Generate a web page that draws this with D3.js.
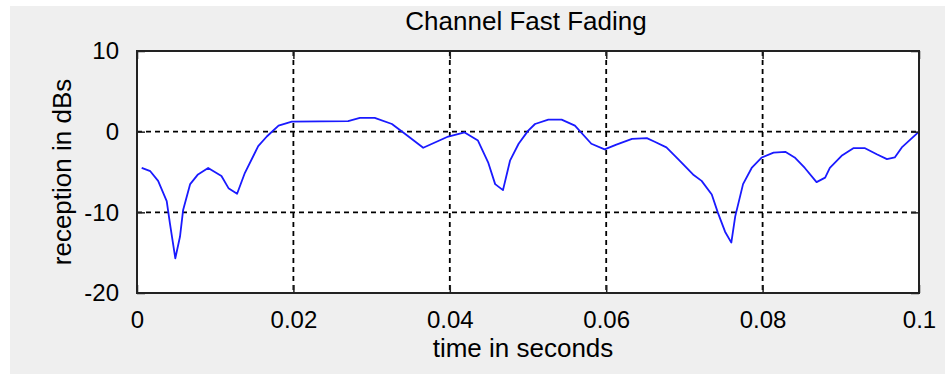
<!DOCTYPE html>
<html>
<head>
<meta charset="utf-8">
<script src="https://cdn.jsdelivr.net/npm/d3@7/dist/d3.min.js"></script>
<style>
  html, body { margin: 0; padding: 0; background: #ffffff; }
  svg { display: block; font-family: "Liberation Sans", Arial, sans-serif; }
</style>
</head>
<body>
<svg id="chart" width="945" height="374"></svg>
<script>
// Sampled channel response: time (s) and received level (dB)
const timeSec = [
  0.0006, 0.0017, 0.0027, 0.0038, 0.0042, 0.0049, 0.0055, 0.0059, 0.0068, 0.0078,
  0.0091, 0.0108, 0.0117, 0.0128, 0.0138, 0.0155, 0.0166, 0.0181, 0.0198, 0.0270,
  0.0285, 0.0304, 0.0326, 0.0343, 0.0366, 0.0398, 0.0419, 0.0436, 0.0449, 0.0458,
  0.0468, 0.0477, 0.0488, 0.0500, 0.0509, 0.0526, 0.0543, 0.0560, 0.0581, 0.0598,
  0.0613, 0.0633, 0.0652, 0.0662, 0.0677, 0.0692, 0.0711, 0.0722, 0.0735, 0.0743,
  0.0752, 0.0760, 0.0765, 0.0775, 0.0786, 0.0799, 0.0814, 0.0829, 0.0841, 0.0854,
  0.0869, 0.0880, 0.0886, 0.0901, 0.0916, 0.0931, 0.0946, 0.0959, 0.0969, 0.0978,
  0.1000
];
const receptionDb = [
  -4.5, -4.9, -6.1, -8.6, -11.3, -15.7, -13.0, -9.7, -6.5, -5.3,
  -4.5, -5.5, -7.0, -7.7, -5.1, -1.8, -0.6, 0.75, 1.25, 1.3,
  1.7, 1.7, 0.95, -0.3, -2.0, -0.6, -0.1, -1.1, -3.8, -6.5,
  -7.25, -3.6, -1.5, 0.1, 0.95, 1.5, 1.5, 0.75, -1.5, -2.2,
  -1.6, -0.9, -0.8, -1.25, -1.95, -3.4, -5.3, -6.1, -7.8, -10.1,
  -12.4, -13.75, -10.5, -6.5, -4.5, -3.2, -2.6, -2.5, -3.2, -4.5,
  -6.25, -5.7, -4.5, -3.0, -2.05, -2.05, -2.8, -3.4, -3.2, -1.95,
  0.0
];
const xTicks = [0, 0.02, 0.04, 0.06, 0.08, 0.1];
const xTickLabels = ["0", "0.02", "0.04", "0.06", "0.08", "0.1"];
const yTicks = [-20, -10, 0, 10];
const yTickLabels = ["-20", "-10", "0", "10"];

const titleText = "Channel Fast Fading";
const xLabelText = "time in seconds";
const yLabelText = "reception in dBs";

const W = 945, H = 374;
const plot = { left: 137, top: 51, right: 919, bottom: 293 };
const tickFont = 24;
const labelFont = 26;

const svg = d3.select("#chart");

// figure background panel
svg.append("rect").attr("x", 10).attr("y", 6).attr("width", W - 10).attr("height", H - 6)
  .attr("fill", "#efefef");

// axes area
svg.append("rect")
  .attr("x", plot.left).attr("y", plot.top)
  .attr("width", plot.right - plot.left).attr("height", plot.bottom - plot.top)
  .attr("fill", "#ffffff");

const x = d3.scaleLinear().domain([0, 0.1]).range([plot.left, plot.right]);
const y = d3.scaleLinear().domain([-20, 10]).range([plot.bottom, plot.top]);

// dashed grid
const grid = svg.append("g").attr("stroke", "#000").attr("stroke-width", 1.8)
  .attr("stroke-dasharray", "5,4").attr("fill", "none");
grid.selectAll("line.gx").data(xTicks.filter(d => d > 0 && d < 0.1)).join("line")
  .attr("class", "gx")
  .attr("x1", d => x(d)).attr("x2", d => x(d))
  .attr("y1", plot.top).attr("y2", plot.bottom);
grid.selectAll("line.gy").data(yTicks.filter(d => d > -20 && d < 10)).join("line")
  .attr("class", "gy")
  .attr("y1", d => y(d)).attr("y2", d => y(d))
  .attr("x1", plot.left).attr("x2", plot.right);

// data line
const line = d3.line().x((d, i) => x(timeSec[i])).y(d => y(d)).curve(d3.curveLinear);
svg.append("path").datum(receptionDb)
  .attr("d", line)
  .attr("fill", "none").attr("stroke", "#1a1aff").attr("stroke-width", 1.8)
  .attr("stroke-linejoin", "round");

// axes with inward ticks on all four sides
const tickLen = 8;
const axisStyle = g => {
  g.select(".domain").remove();
  g.selectAll("line").attr("stroke", "#222").attr("stroke-width", 1.5);
};
svg.append("g").attr("transform", `translate(0,${plot.bottom})`)
  .call(d3.axisBottom(x).tickValues(xTicks).tickSizeInner(-tickLen).tickSizeOuter(0)
    .tickFormat((d, i) => xTickLabels[i]).tickPadding(tickLen + 10))
  .call(axisStyle)
  .call(g => g.selectAll("text").attr("font-size", tickFont).attr("fill", "#000")
    .attr("font-family", "Liberation Sans, Arial, sans-serif").attr("dy", "0.71em"));
svg.append("g").attr("transform", `translate(0,${plot.top})`)
  .call(d3.axisTop(x).tickValues(xTicks).tickSizeInner(-tickLen).tickSizeOuter(0).tickFormat(""))
  .call(axisStyle);
svg.append("g").attr("transform", `translate(${plot.left},0)`)
  .call(d3.axisLeft(y).tickValues(yTicks).tickSizeInner(-tickLen).tickSizeOuter(0)
    .tickFormat((d, i) => yTickLabels[i]).tickPadding(tickLen + 10))
  .call(axisStyle)
  .call(g => g.selectAll("text").attr("font-size", tickFont).attr("fill", "#000")
    .attr("font-family", "Liberation Sans, Arial, sans-serif"));
svg.append("g").attr("transform", `translate(${plot.right},0)`)
  .call(d3.axisRight(y).tickValues(yTicks).tickSizeInner(-tickLen).tickSizeOuter(0).tickFormat(""))
  .call(axisStyle);

// box around the axes
svg.append("rect")
  .attr("x", plot.left).attr("y", plot.top)
  .attr("width", plot.right - plot.left).attr("height", plot.bottom - plot.top)
  .attr("fill", "none").attr("stroke", "#222").attr("stroke-width", 2);

// title and axis labels
svg.append("text").attr("x", 526).attr("y", 30)
  .attr("text-anchor", "middle").attr("font-size", labelFont).attr("fill", "#000")
  .text(titleText);
svg.append("text").attr("x", 523).attr("y", 357)
  .attr("text-anchor", "middle").attr("font-size", labelFont).attr("fill", "#000")
  .text(xLabelText);
svg.append("text")
  .attr("transform", `translate(71,${(plot.top + plot.bottom) / 2}) rotate(-90)`)
  .attr("text-anchor", "middle").attr("font-size", labelFont).attr("fill", "#000")
  .text(yLabelText);
</script>
</body>
</html>
